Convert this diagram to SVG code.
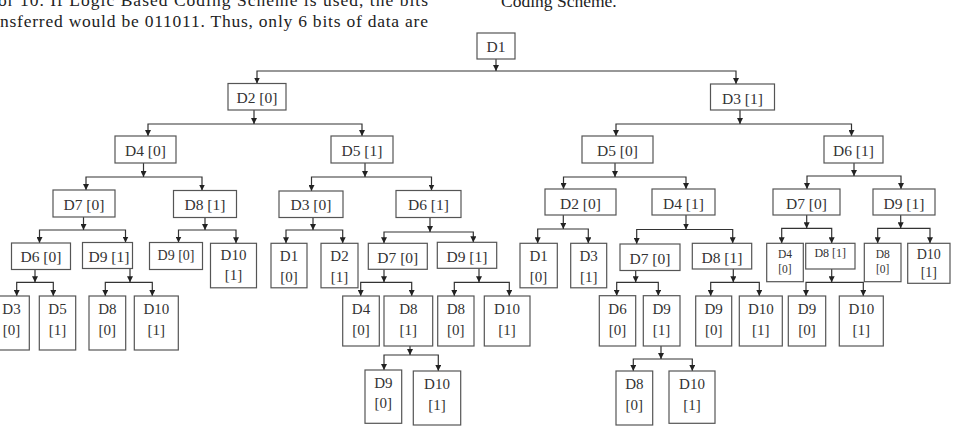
<svg xmlns="http://www.w3.org/2000/svg" width="953" height="430" viewBox="0 0 953 430">
<style>
.b{fill:#fff;stroke:#555;stroke-width:1.2}
.t{font-family:"Liberation Serif","Times New Roman",serif;font-size:15.5px;fill:#333;text-anchor:middle}
.t2{font-family:"Liberation Serif","Times New Roman",serif;font-size:15px;fill:#333;text-anchor:middle}
.s14{font-family:"Liberation Serif","Times New Roman",serif;font-size:14px;fill:#333;text-anchor:middle}
.s12{font-family:"Liberation Serif","Times New Roman",serif;font-size:12px;fill:#333;text-anchor:middle}
.s11{font-family:"Liberation Serif","Times New Roman",serif;font-size:11.5px;fill:#333;text-anchor:middle}
.p{font-family:"Liberation Serif","Times New Roman",serif;font-size:17.5px;fill:#222}
.c path{fill:none;stroke:#333;stroke-width:1.2}
.c path.s{marker-end:url(#a)}
.c path.k{marker-start:url(#a);marker-end:url(#a)}
</style>
<defs>
<marker id="a" viewBox="0 0 8 8" refX="8" refY="4" markerWidth="6" markerHeight="6" markerUnits="userSpaceOnUse" orient="auto-start-reverse">
<path d="M0,0 L8,4 L0,8 z" fill="#222"/>
</marker>
</defs>
<rect width="953" height="430" fill="#fff"/>
<g id="prose">
<text class="p" x="-2" y="6" textLength="430" lengthAdjust="spacing">or 10. If Logic Based Coding Scheme is used, the bits</text>
<text class="p" x="0" y="27" textLength="428" lengthAdjust="spacing">nsferred would be 011011. Thus, only 6 bits of data are</text>
<text class="p" x="501" y="6.5">Coding Scheme.</text>
</g>
<g class="c" id="connectors">
<path class="s" d="M496,59 V71"/><path class="k" d="M257,83.5 V71 H736 V84"/>
<path class="s" d="M254,110 V124"/><path class="k" d="M148,136 V124 H362 V136"/>
<path class="s" d="M740,110 V124"/><path class="k" d="M616,136 V124 H851.5 V136"/>
<path class="s" d="M143.5,163 V177"/><path class="k" d="M86,190 V177 H202 V190.5"/>
<path class="s" d="M365,163 V177"/><path class="k" d="M311.5,191 V177 H431.5 V190.5"/>
<path class="s" d="M615,163 V177"/><path class="k" d="M563.5,189 V177 H686 V189"/>
<path class="s" d="M854,163 V176"/><path class="k" d="M807,189 V176 H901 V189"/>
<path class="s" d="M83.5,217 V230"/><path class="k" d="M39.5,243 V230 H125.5 V242.5"/>
<path class="s" d="M205,217.5 V230"/><path class="k" d="M178.5,242.5 V230 H236 V243.3"/>
<path class="s" d="M313,217.5 V230"/><path class="k" d="M286,243.3 V230 H342.7 V243.3"/>
<path class="s" d="M430,217.5 V232"/><path class="k" d="M384,243.3 V232 H473.3 V242.3"/>
<path class="s" d="M563.3,215 V229"/><path class="k" d="M537.7,243.3 V229 H588.3 V243.3"/>
<path class="s" d="M686,215 V229.5"/><path class="k" d="M636.7,244 V229.5 H732.7 V243.3"/>
<path class="s" d="M806.7,215 V228.3"/><path class="k" d="M781.7,243.3 V228.3 H831.7 V243.3"/>
<path class="s" d="M900.7,215 V228.3"/><path class="k" d="M877.7,243.3 V228.3 H930 V243.3"/>
<path class="s" d="M35,269.5 V282.3"/><path class="k" d="M16.7,296 V282.3 H53.3 V296"/>
<path class="s" d="M130,268.5 V282.3"/><path class="k" d="M105.3,296 V282.3 H152.3 V296"/>
<path class="s" d="M384,269.3 V282.3"/><path class="k" d="M360.7,296 V282.3 H411.7 V296"/>
<path class="s" d="M479,268.3 V282.3"/><path class="k" d="M454.3,296 V282.3 H509.3 V296"/>
<path class="s" d="M635.7,270.5 V282.3"/><path class="k" d="M616.7,295.7 V282.3 H658.3 V295.7"/>
<path class="s" d="M733.3,269 V282.3"/><path class="k" d="M710.7,296 V282.3 H759.3 V296"/>
<path class="s" d="M831.7,269 V282.3"/><path class="k" d="M806,296 V282.3 H863.3 V296"/>
<path class="s" d="M410,346 V355"/><path class="k" d="M384,370 V355 H438.3 V371"/>
<path class="s" d="M661,346 V359"/><path class="k" d="M633.3,371 V359 H692.3 V371"/>
</g>
<g id="n-d1"><rect class="b" x="477" y="33" width="38" height="26"/><text class="t" x="496" y="52">D1</text></g>
<g id="n-d2-0"><rect class="b" x="228" y="83.5" width="58" height="26.5"/><text class="t" x="257" y="103">D2 [0]</text></g>
<g id="n-d3-1"><rect class="b" x="710.5" y="84" width="64" height="26"/><text class="t" x="742.5" y="103.5">D3 [1]</text></g>
<g id="n-d4-0a"><rect class="b" x="115" y="136" width="61" height="27"/><text class="t" x="145.5" y="155.5">D4 [0]</text></g>
<g id="n-d5-1a"><rect class="b" x="331" y="136" width="62" height="27"/><text class="t" x="362" y="155.5">D5 [1]</text></g>
<g id="n-d5-0b"><rect class="b" x="582" y="136" width="71" height="27"/><text class="t" x="617.5" y="155.5">D5 [0]</text></g>
<g id="n-d6-1b"><rect class="b" x="824" y="136" width="59" height="27"/><text class="t" x="853.5" y="155.5">D6 [1]</text></g>
<g id="n-d7-0a"><rect class="b" x="53" y="190" width="62" height="27"/><text class="t" x="84" y="209.5">D7 [0]</text></g>
<g id="n-d8-1a"><rect class="b" x="173.5" y="190.5" width="63" height="27"/><text class="t" x="205" y="210">D8 [1]</text></g>
<g id="n-d3-0a"><rect class="b" x="279" y="191" width="64" height="26.5"/><text class="t" x="311" y="210">D3 [0]</text></g>
<g id="n-d6-1a"><rect class="b" x="396" y="190.5" width="65" height="27"/><text class="t" x="428.5" y="210">D6 [1]</text></g>
<g id="n-d2-0b"><rect class="b" x="545" y="189" width="71" height="26"/><text class="t" x="580.5" y="208.5">D2 [0]</text></g>
<g id="n-d4-1b"><rect class="b" x="652" y="189" width="63" height="26"/><text class="t" x="683.5" y="208.5">D4 [1]</text></g>
<g id="n-d7-0c"><rect class="b" x="773" y="189" width="67" height="26"/><text class="t" x="806.5" y="208.5">D7 [0]</text></g>
<g id="n-d9-1c"><rect class="b" x="873" y="189" width="62" height="26"/><text class="t" x="904" y="208.5">D9 [1]</text></g>
<g id="n-d6-0a"><rect class="b" x="11.5" y="243" width="59" height="26.5"/><text class="t" x="41" y="262">D6 [0]</text></g>
<g id="n-d9-1a"><rect class="b" x="82.5" y="242.5" width="50" height="26"/><text class="t" x="109" y="261.5">D9 [1]</text></g>
<g id="n-d9-0a"><rect class="b" x="149.5" y="242.5" width="53" height="27"/><text class="s14" x="176" y="259.5">D9 [0]</text></g>
<g id="n-d10-1a"><rect class="b" x="210.5" y="243.3" width="46" height="44.5"/><text class="t2" x="233.5" y="260">D10</text><text class="t2" x="233.5" y="279.5">[1]</text></g>
<g id="n-d1-0a"><rect class="b" x="271" y="243.3" width="36" height="44.5"/><text class="t2" x="289" y="260.7">D1</text><text class="t2" x="289" y="281.5">[0]</text></g>
<g id="n-d2-1a"><rect class="b" x="321" y="243.3" width="37" height="44.5"/><text class="t2" x="339.5" y="260.7">D2</text><text class="t2" x="339.5" y="281.5">[1]</text></g>
<g id="n-d7-0b"><rect class="b" x="368.3" y="243.3" width="59" height="26"/><text class="t" x="397.8" y="262.5">D7 [0]</text></g>
<g id="n-d9-1b"><rect class="b" x="437.3" y="242.3" width="59.4" height="26"/><text class="t" x="467" y="261.5">D9 [1]</text></g>
<g id="n-d1-0b"><rect class="b" x="520" y="243.3" width="37.3" height="44.5"/><text class="t2" x="538.6" y="260.7">D1</text><text class="t2" x="538.6" y="281.5">[0]</text></g>
<g id="n-d3-1b"><rect class="b" x="570.7" y="243.3" width="36" height="44.5"/><text class="t2" x="588.7" y="260.7">D3</text><text class="t2" x="588.7" y="281.5">[1]</text></g>
<g id="n-d7-0d"><rect class="b" x="620" y="244" width="60" height="26.5"/><text class="t" x="650" y="263.5">D7 [0]</text></g>
<g id="n-d8-1d"><rect class="b" x="692.3" y="243.3" width="59.4" height="25.7"/><text class="t" x="722" y="262.5">D8 [1]</text></g>
<g id="n-d4-0c"><rect class="b" x="766.7" y="243.3" width="36.6" height="38.4"/><text class="s11" x="785" y="258.3">D4</text><text class="s11" x="785" y="272.7">[0]</text></g>
<g id="n-d8-1c"><rect class="b" x="805.7" y="243.3" width="49.3" height="25.7"/><text class="s12" x="830.3" y="257.3">D8 [1]</text></g>
<g id="n-d8-0c"><rect class="b" x="864.3" y="243.3" width="36.7" height="38.4"/><text class="s11" x="882.7" y="258.3">D8</text><text class="s11" x="882.7" y="272.7">[0]</text></g>
<g id="n-d10-1c"><rect class="b" x="907.7" y="243.3" width="42.3" height="40"/><text class="s14" x="928.8" y="259.3">D10</text><text class="s14" x="928.8" y="277">[1]</text></g>
<g id="n-d3-0b"><rect class="b" x="-6" y="296" width="35.3" height="54"/><text class="t2" x="11.5" y="314.3">D3</text><text class="t2" x="11.5" y="335">[0]</text></g>
<g id="n-d5-1c"><rect class="b" x="39.3" y="296" width="36.4" height="54"/><text class="t2" x="57.5" y="314.3">D5</text><text class="t2" x="57.5" y="335">[1]</text></g>
<g id="n-d8-0a"><rect class="b" x="89" y="296" width="36.7" height="54"/><text class="t2" x="107.3" y="314.3">D8</text><text class="t2" x="107.3" y="335">[0]</text></g>
<g id="n-d10-1b"><rect class="b" x="134.3" y="296" width="44" height="54"/><text class="t2" x="156.3" y="314.3">D10</text><text class="t2" x="156.3" y="335">[1]</text></g>
<g id="n-d4-0b"><rect class="b" x="342.7" y="296" width="36.6" height="50"/><text class="t2" x="361" y="314.3">D4</text><text class="t2" x="361" y="335">[0]</text></g>
<g id="n-d8-1b"><rect class="b" x="384" y="296" width="48.7" height="50"/><text class="t2" x="408.3" y="314.3">D8</text><text class="t2" x="408.3" y="335">[1]</text></g>
<g id="n-d8-0b"><rect class="b" x="437.7" y="296" width="36.3" height="50"/><text class="t2" x="455.8" y="314.3">D8</text><text class="t2" x="455.8" y="335">[0]</text></g>
<g id="n-d10-1d"><rect class="b" x="484.3" y="296" width="45.7" height="50"/><text class="t2" x="507" y="314.3">D10</text><text class="t2" x="507" y="335">[1]</text></g>
<g id="n-d6-0b"><rect class="b" x="599.3" y="295.7" width="36.4" height="50.3"/><text class="t2" x="617.5" y="314">D6</text><text class="t2" x="617.5" y="335">[0]</text></g>
<g id="n-d9-1d"><rect class="b" x="643.3" y="295.7" width="36.7" height="50.3"/><text class="t2" x="661.6" y="314">D9</text><text class="t2" x="661.6" y="335">[1]</text></g>
<g id="n-d9-0d"><rect class="b" x="695.7" y="296" width="36" height="50"/><text class="t2" x="713.7" y="314.3">D9</text><text class="t2" x="713.7" y="335">[0]</text></g>
<g id="n-d10-1e"><rect class="b" x="739.3" y="296" width="43" height="50"/><text class="t2" x="760.8" y="314.3">D10</text><text class="t2" x="760.8" y="335">[1]</text></g>
<g id="n-d9-0e"><rect class="b" x="788.3" y="296" width="37.4" height="50"/><text class="t2" x="807" y="314.3">D9</text><text class="t2" x="807" y="335">[0]</text></g>
<g id="n-d10-1f"><rect class="b" x="839.3" y="296" width="44" height="50"/><text class="t2" x="861.3" y="314.3">D10</text><text class="t2" x="861.3" y="335">[1]</text></g>
<g id="n-d9-0f"><rect class="b" x="365" y="370" width="36.7" height="53.3"/><text class="t2" x="383.3" y="388.3">D9</text><text class="t2" x="383.3" y="408.3">[0]</text></g>
<g id="n-d10-1g"><rect class="b" x="413.3" y="371" width="47.4" height="54"/><text class="t2" x="437" y="389.3">D10</text><text class="t2" x="437" y="410">[1]</text></g>
<g id="n-d8-0g"><rect class="b" x="616" y="371" width="36.7" height="54"/><text class="t2" x="634.3" y="389.3">D8</text><text class="t2" x="634.3" y="410">[0]</text></g>
<g id="n-d10-1h"><rect class="b" x="669" y="371" width="46" height="52.3"/><text class="t2" x="692" y="389.3">D10</text><text class="t2" x="692" y="410">[1]</text></g>
</svg>
